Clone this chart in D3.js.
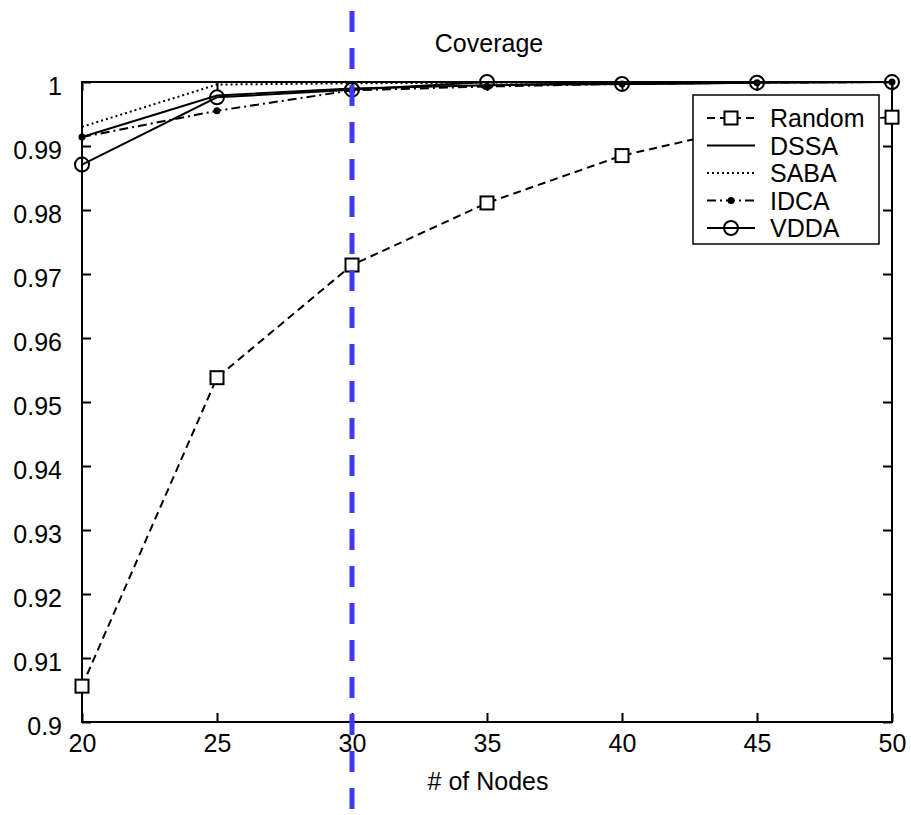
<!DOCTYPE html>
<html>
<head>
<meta charset="utf-8">
<script src="https://cdn.jsdelivr.net/npm/d3@7"></script>
<style>
  html, body { margin: 0; padding: 0; background: #fff; }
  svg { display: block; }
  text { font-family: "Liberation Sans", Arial, Helvetica, sans-serif; fill: #000; }
</style>
</head>
<body>
<svg id="chart" width="911" height="815"></svg>
<script>
// Node counts along the x axis
const nodes = [20, 25, 30, 35, 40, 45, 50];

// Coverage per algorithm
const randomCov = [0.9056, 0.9538, 0.9714, 0.9811, 0.9885, 0.9933, 0.9945];
const dssaCov   = [0.9914, 0.9979, 0.9990, 0.9995, 0.9997, 0.9999, 1.0000];
const sabaCov   = [0.9930, 0.9996, 0.9998, 0.9999, 1.0000, 1.0000, 1.0000];
const idcaCov   = [0.9914, 0.9955, 0.9987, 0.9993, 0.9997, 0.9999, 1.0000];
const vddaCov   = [0.9871, 0.9976, 0.9988, 1.0000, 0.9997, 0.9999, 1.0000];

const seriesNames = ["Random", "DSSA", "SABA", "IDCA", "VDDA"];

const xTicks = [20, 25, 30, 35, 40, 45, 50];
const yTicks = [0.9, 0.91, 0.92, 0.93, 0.94, 0.95, 0.96, 0.97, 0.98, 0.99, 1];

const markedX = 30;

const svg = d3.select("#chart");
const plotLeft = 82, plotTop = 82, plotRight = 892, plotBottom = 722;
const fontSize = 25;

const x = d3.scaleLinear().domain([20, 50]).range([plotLeft, plotRight]);
const y = d3.scaleLinear().domain([0.9, 1]).range([plotBottom, plotTop]);

const styles = {
  Random: { data: randomCov, dash: "8,5", marker: "square" },
  DSSA:   { data: dssaCov,   dash: null,  marker: null },
  SABA:   { data: sabaCov,   dash: "2,3", marker: null },
  IDCA:   { data: idcaCov,   dash: "9,4,2,4", marker: "dot" },
  VDDA:   { data: vddaCov,   dash: null,  marker: "circle" }
};

// Axes: inward ticks on all four sides
const tick = 9;
svg.append("rect")
  .attr("x", plotLeft).attr("y", plotTop)
  .attr("width", plotRight - plotLeft).attr("height", plotBottom - plotTop)
  .attr("fill", "none").attr("stroke", "#000").attr("stroke-width", 2);

const xAxisB = d3.axisBottom(x).tickValues(xTicks).tickSizeInner(-tick).tickSizeOuter(0)
  .tickPadding(12).tickFormat(d3.format("d"));
const gx = svg.append("g").attr("transform", `translate(0,${plotBottom})`).call(xAxisB);
gx.select(".domain").remove();
gx.selectAll(".tick line").attr("stroke", "#000").attr("stroke-width", 2);
gx.selectAll(".tick text").attr("font-size", fontSize).attr("dy", "0.71em");

const xAxisT = d3.axisTop(x).tickValues(xTicks).tickSizeInner(-tick).tickSizeOuter(0).tickFormat("");
const gxt = svg.append("g").attr("transform", `translate(0,${plotTop})`).call(xAxisT);
gxt.select(".domain").remove();
gxt.selectAll(".tick line").attr("stroke", "#000").attr("stroke-width", 2);

const yAxisL = d3.axisLeft(y).tickValues(yTicks).tickSizeInner(-tick).tickSizeOuter(0)
  .tickPadding(20).tickFormat(d => d === 1 ? "1" : d3.format(".2~f")(d));
const gy = svg.append("g").attr("transform", `translate(${plotLeft},0)`).call(yAxisL);
gy.select(".domain").remove();
gy.selectAll(".tick line").attr("stroke", "#000").attr("stroke-width", 2);
gy.selectAll(".tick text").attr("font-size", fontSize).attr("dy", "0.5em");

const yAxisR = d3.axisRight(y).tickValues(yTicks).tickSizeInner(-tick).tickSizeOuter(0).tickFormat("");
const gyr = svg.append("g").attr("transform", `translate(${plotRight},0)`).call(yAxisR);
gyr.select(".domain").remove();
gyr.selectAll(".tick line").attr("stroke", "#000").attr("stroke-width", 2);

// Title and axis label
svg.append("text").attr("x", 489).attr("y", 52).attr("text-anchor", "middle")
  .attr("font-size", fontSize).text("Coverage");
svg.append("text").attr("x", 488).attr("y", 790).attr("text-anchor", "middle")
  .attr("font-size", fontSize).text("# of Nodes");

// Series lines and markers
const line = d3.line().x((d, i) => x(nodes[i])).y(d => y(d));
const plot = svg.append("g");

function drawMarker(g, type, cx, cy) {
  if (type === "square") {
    g.append("rect").attr("x", cx - 6.5).attr("y", cy - 6.5).attr("width", 13).attr("height", 13)
      .attr("fill", "#fff").attr("stroke", "#000").attr("stroke-width", 2);
  } else if (type === "circle") {
    g.append("circle").attr("cx", cx).attr("cy", cy).attr("r", 7)
      .attr("fill", "none").attr("stroke", "#000").attr("stroke-width", 2);
  } else if (type === "dot") {
    g.append("circle").attr("cx", cx).attr("cy", cy).attr("r", 3.5).attr("fill", "#000");
  }
}

["SABA", "IDCA", "DSSA", "VDDA", "Random"].forEach(name => {
  const s = styles[name];
  plot.append("path").datum(s.data)
    .attr("d", line).attr("fill", "none").attr("stroke", "#000")
    .attr("stroke-width", 2).attr("stroke-dasharray", s.dash);
  if (s.marker) {
    s.data.forEach((v, i) => drawMarker(plot, s.marker, x(nodes[i]), y(v)));
  }
});

// Legend
const lg = svg.append("g").attr("transform", "translate(693,95)");
lg.append("rect").attr("width", 186).attr("height", 149)
  .attr("fill", "#fff").attr("stroke", "#000").attr("stroke-width", 1.5);
seriesNames.forEach((name, i) => {
  const s = styles[name];
  const cy = 23 + i * 27.5;
  lg.append("line").attr("x1", 14).attr("x2", 62).attr("y1", cy).attr("y2", cy)
    .attr("stroke", "#000").attr("stroke-width", 2).attr("stroke-dasharray", s.dash);
  if (s.marker) drawMarker(lg, s.marker, 38, cy);
  lg.append("text").attr("x", 77).attr("y", cy).attr("dy", "0.36em")
    .attr("font-size", fontSize).text(name);
});

// Highlighted node count
svg.append("line")
  .attr("x1", x(markedX)).attr("x2", x(markedX))
  .attr("y1", 0).attr("y2", 815)
  .attr("stroke", "#3b3bf2").attr("stroke-width", 5)
  .attr("stroke-dasharray", "21,16").attr("stroke-dashoffset", 26);
</script>
</body>
</html>
